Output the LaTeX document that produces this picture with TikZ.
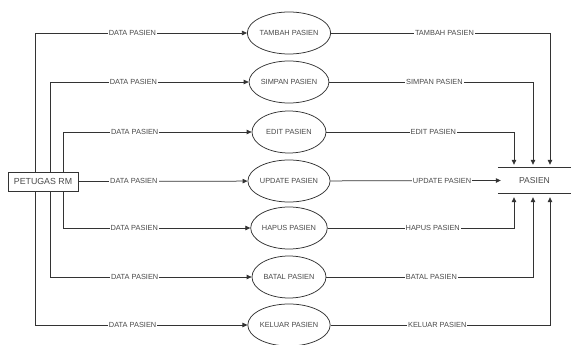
\documentclass[tikz,border=0pt]{standalone}
\usepackage{fontspec}
\setmainfont{Liberation Sans}
\usetikzlibrary{shapes.geometric,arrows.meta}
\definecolor{ink}{HTML}{333333}
\definecolor{txt}{HTML}{4A4A4A}
\begin{document}
\begin{tikzpicture}[x=1pt,y=-1pt,
  flow/.style={draw=ink,line width=0.75pt,-{Triangle[length=5pt,width=4.5pt]}},
  proc/.style={ellipse,draw=ink,line width=0.75pt,fill=white,minimum width=74pt,
    minimum height=42pt,inner sep=0pt,text=txt,font=\fontsize{7.4}{8}\selectfont},
  lbl/.style={fill=white,inner sep=1pt,text=txt,font=\fontsize{7.4}{8}\selectfont},
  entity/.style={rectangle,draw=ink,line width=0.75pt,fill=white,minimum width=70pt,
    minimum height=19pt,inner sep=0pt,text=txt,font=\fontsize{8.8}{10}\selectfont},
  store/.style={rectangle,minimum width=73pt,minimum height=25pt,inner sep=0pt,
    text=txt,font=\fontsize{8.6}{10}\selectfont}]
\useasboundingbox (0,0) rectangle (571,345);

% external entity
\node[entity] (pet) at (43,181.5) {PETUGAS RM};

% processes
\node[proc] (e1) at (289,33)  {TAMBAH PASIEN};
\node[proc] (e2) at (289,82)  {SIMPAN PASIEN};
\node[proc] (e3) at (289,132) {EDIT PASIEN};
\node[proc] (e4) at (289,181) {UPDATE PASIEN};
\node[proc] (e5) at (289,228) {HAPUS PASIEN};
\node[proc] (e6) at (289,277) {BATAL PASIEN};
\node[proc] (e7) at (289,325) {KELUAR PASIEN};

% data store
\node[store] (st) at (534.5,180.5) {PASIEN};
\draw[ink,line width=0.75pt] (st.north west) -- (st.north east);
\draw[ink,line width=0.75pt] (st.south west) -- (st.south east);

% flows from the external entity to the processes
\draw[flow] ([xshift=28pt]pet.north west) |- node[lbl,pos=0.729] {DATA PASIEN} (e1);
\draw[flow] ([xshift=43pt]pet.north west) |- node[lbl,pos=0.709] {DATA PASIEN} (e2);
\draw[flow] ([xshift=56pt]pet.north west) |- node[lbl,pos=0.689] {DATA PASIEN} (e3);
\draw[flow] (pet.east) -- node[lbl,pos=0.328] {DATA PASIEN} (e4);
\draw[flow] ([xshift=56pt]pet.south west) |- node[lbl,pos=0.689] {DATA PASIEN} (e5);
\draw[flow] ([xshift=43pt]pet.south west) |- node[lbl,pos=0.709] {DATA PASIEN} (e6);
\draw[flow] ([xshift=28pt]pet.south west) |- node[lbl,pos=0.729] {DATA PASIEN} (e7);

% flows from the processes to the data store
\draw[flow] (e1) -| node[lbl,pos=0.259] {TAMBAH PASIEN} ([xshift=15.5pt,yshift=3pt]st.north);
\draw[flow] (e2) -| node[lbl,pos=0.258] {SIMPAN PASIEN} ([xshift=-1.5pt,yshift=3pt]st.north);
\draw[flow] (e3) -| node[lbl,pos=0.285] {EDIT PASIEN} ([xshift=-20.5pt,yshift=3pt]st.north);
\draw[flow] (e4) -- node[lbl,pos=0.655] {UPDATE PASIEN} ([xshift=3pt]st.west);
\draw[flow] (e5) -| node[lbl,pos=0.282] {HAPUS PASIEN} ([xshift=-20.5pt,yshift=-4pt]st.south);
\draw[flow] (e6) -| node[lbl,pos=0.254] {BATAL PASIEN} ([xshift=-1.5pt,yshift=-4pt]st.south);
\draw[flow] (e7) -| node[lbl,pos=0.243] {KELUAR PASIEN} ([xshift=15.5pt,yshift=-4pt]st.south);
\end{tikzpicture}
\end{document}
